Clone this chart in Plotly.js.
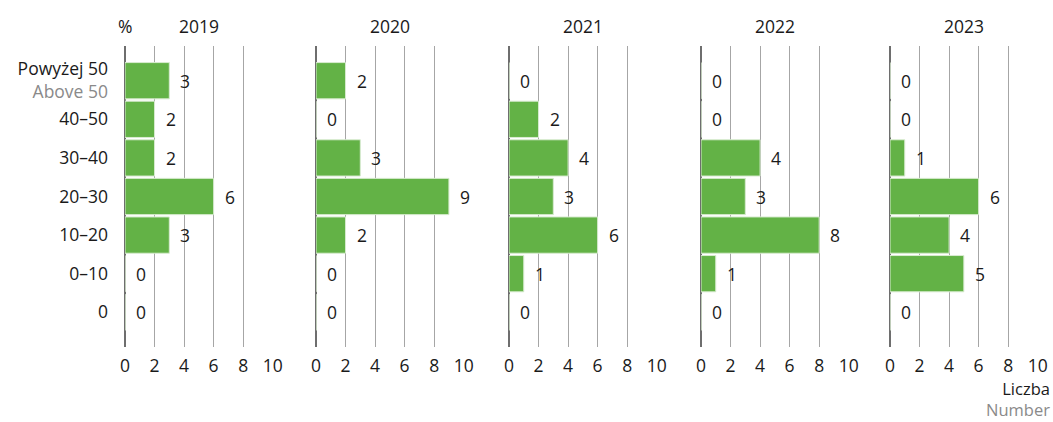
<!DOCTYPE html>
<html>
<head>
<meta charset="utf-8">
<script src="https://cdn.plot.ly/plotly-3.0.1.min.js"></script>
<style>html,body{margin:0;padding:0;background:#fff;}#chart{width:1053px;height:422px;}</style>
</head>
<body>
<div id="chart"></div>
<script>
// Categories (bottom to top)
const categories = ["0", "0–10", "10–20", "20–30", "30–40", "40–50", "Powyżej 50"];
const categoryLabels = ["0", "0–10", "10–20", "20–30", "30–40", "40–50",
  "Powyżej 50<br><span style='color:#8a8a8a'>Above 50</span>"];
const years = ["2019", "2020", "2021", "2022", "2023"];
const values2019 = [0, 0, 3, 6, 2, 2, 3];
const values2020 = [0, 0, 2, 9, 3, 0, 2];
const values2021 = [0, 1, 6, 3, 4, 2, 0];
const values2022 = [0, 1, 8, 3, 4, 0, 0];
const values2023 = [0, 5, 4, 6, 1, 0, 0];
const xTicks = [0, 2, 4, 6, 8, 10];

const series = [values2019, values2020, values2021, values2022, values2023];
const W = 1053, H = 422;
const panelLeft = [125, 316, 509, 701, 890];
const panelWidth = 148;
const yTop = 46, yBottom = 347;
const green = "#63b246";
const font = "'Open Sans', 'Noto Sans', sans-serif";
const fs = 17.5;

const data = [];
const layout = {
  width: W, height: H,
  margin: {l: 0, r: 0, t: 0, b: 0},
  paper_bgcolor: "#fff", plot_bgcolor: "rgba(0,0,0,0)",
  showlegend: false,
  font: {family: font, size: fs, color: "#1a1a1a"},
  bargap: 0.06,
  annotations: []
};

series.forEach((vals, i) => {
  const n = i === 0 ? "" : String(i + 1);
  data.push({
    type: "bar", orientation: "h",
    x: vals, y: categories,
    xaxis: "x" + n, yaxis: "y" + n,
    marker: {color: green, line: {color: "#d9ecd1", width: 1}},
    hoverinfo: "skip"
  });
  layout["xaxis" + n] = {
    domain: [panelLeft[i] / W, (panelLeft[i] + panelWidth) / W],
    anchor: "y" + n,
    range: [0, 10.02],
    tickvals: xTicks, ticktext: xTicks.map(String),
    showgrid: true, gridcolor: "#a6a6a6", gridwidth: 1,
    zeroline: true, zerolinecolor: "#6e6e6e", zerolinewidth: 1.5,
    showline: false, ticks: "", ticklabelstandoff: 6,
    tickfont: {family: font, size: fs, color: "#1a1a1a"},
    automargin: false, fixedrange: true
  };
  layout["yaxis" + n] = {
    domain: [1 - yBottom / H, 1 - yTop / H],
    anchor: "x" + n,
    type: "category",
    categoryorder: "array", categoryarray: categories,
    range: [-0.9, 6.9],
    showgrid: false, zeroline: false, showline: false, ticks: "",
    showticklabels: i === 0,
    tickvals: categories, ticktext: categoryLabels,
    ticklabelstandoff: 16,
    tickfont: {family: font, size: fs, color: "#1a1a1a"},
    automargin: false, fixedrange: true
  };
  // year title
  layout.annotations.push({
    xref: "paper", yref: "paper",
    x: (panelLeft[i] + panelWidth / 2) / W, y: 1 - 26 / H,
    text: years[i], showarrow: false, xanchor: "center", yanchor: "middle",
    font: {family: font, size: fs, color: "#1a1a1a"}
  });
  // value labels
  vals.forEach((v, k) => {
    layout.annotations.push({
      xref: "x" + n, yref: "y" + n,
      x: v, y: categories[k],
      text: String(v), showarrow: false,
      xanchor: "left", yanchor: "middle", xshift: 9,
      font: {family: font, size: fs, color: "#1a1a1a"}
    });
  });
});

layout.annotations.push({
  xref: "paper", yref: "paper", x: 125 / W, y: 1 - 26 / H,
  text: "%", showarrow: false, xanchor: "center", yanchor: "middle",
  font: {family: font, size: fs, color: "#1a1a1a"}
});
layout.annotations.push({
  xref: "paper", yref: "paper", x: 1051 / W, y: 0,
  text: "Liczba<br><span style='color:#8a8a8a'>Number</span>",
  align: "right", showarrow: false, xanchor: "right", yanchor: "bottom",
  borderpad: 0,
  font: {family: font, size: 16.5, color: "#1a1a1a"}
});

Plotly.newPlot("chart", data, layout, {displayModeBar: false, staticPlot: true});
</script>
</body>
</html>
